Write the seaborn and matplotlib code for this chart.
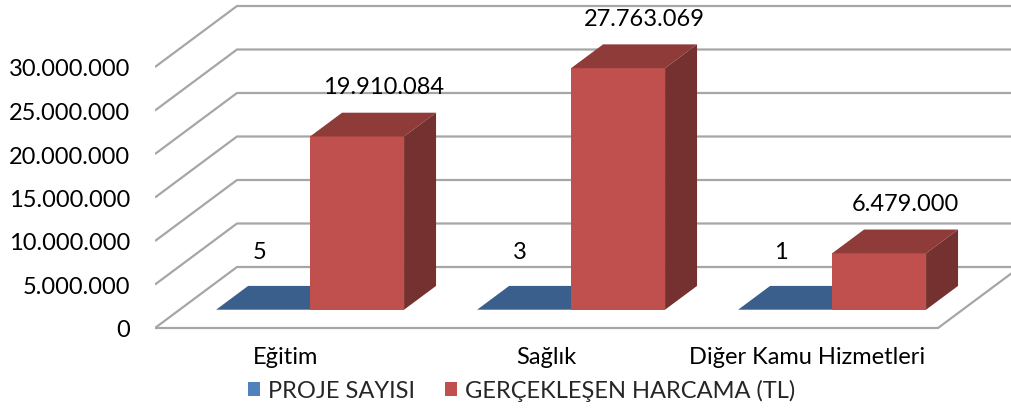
import matplotlib
matplotlib.use("Agg")
import pandas as pd
import matplotlib.pyplot as plt
import seaborn as sns
from matplotlib.patches import Polygon
from matplotlib.transforms import Affine2D
from matplotlib.colors import to_rgb

# Data
categories = ["Eğitim", "Sağlık", "Diğer Kamu Hizmetleri"]
series_names = ["PROJE SAYISI", "GERÇEKLEŞEN HARCAMA (TL)"]
proje_sayisi = [5, 3, 1]
harcama = [19910084, 27763069, 6479000]
y_ticks = [0, 5000000, 10000000, 15000000, 20000000, 25000000, 30000000]

df = pd.DataFrame({
    "Kategori": categories * 2,
    "Seri": [series_names[0]] * 3 + [series_names[1]] * 3,
    "Deger": proje_sayisi + harcama,
})

sns.set_theme(style="white")
plt.rcParams["font.family"] = ["Lato", "DejaVu Sans"]
fs = 17

W, H = 1011, 414
fig = plt.figure(figsize=(W / 100, H / 100), dpi=100)
left_px = 155
ax = fig.add_axes([left_px / W, 0, 1 - left_px / W, 1])

# pixel scale of the fake 3D box
px_per_cat = 261
px_per_val = 8.7 / 1e6
zero_px = 329
depth_x = 82 / px_per_cat      # full floor depth, in category units
depth_y = 61 / px_per_val      # full floor depth, in value units
bar_front = 0.3
bar_depth = 0.39
grid_color = "#a6a6a6"

sns.barplot(data=df, x="Kategori", y="Deger", hue="Seri",
            palette=["#4F81BD", "#C0504D"], saturation=1, width=0.72,
            linewidth=0, errorbar=None, ax=ax)

handles, labels = ax.get_legend_handles_labels()
ax.get_legend().remove()

xmin = -0.5
xmax = xmin + (W - left_px) / px_per_cat
ax.set_xlim(xmin, xmax)
ax.set_ylim(-(H - zero_px) / px_per_val, zero_px / px_per_val)

# walls: gridlines run from the front-left edge back and across the back wall
for v in y_ticks:
    ax.plot([xmin, xmin + depth_x, xmax], [v, v + depth_y, v + depth_y],
            color=grid_color, lw=1.6, zorder=1, solid_capstyle="butt")
# floor front and right edges
n = len(categories)
ax.plot([xmin, n - 0.5, n - 0.5 + depth_x], [0, 0, depth_y],
        color=grid_color, lw=1.6, zorder=1)

fx, fy = bar_front * depth_x, bar_front * depth_y
bx, by = bar_depth * depth_x, bar_depth * depth_y
for s, cont in enumerate(ax.containers):
    z = 3 + s
    for p in cont:
        x0, w, h = p.get_x(), p.get_width(), p.get_height()
        base = to_rgb(p.get_facecolor())
        top_c = tuple(c * 0.74 for c in base)
        side_c = tuple(c * 0.61 for c in base)
        p.set_transform(Affine2D().translate(fx, fy) + ax.transData)
        p.set_zorder(z)
        xl, xr, yb, yt = x0 + fx, x0 + w + fx, fy, h + fy
        top = Polygon([(xl, yt), (xr, yt), (xr + bx, yt + by), (xl + bx, yt + by)],
                      closed=True, facecolor=top_c, edgecolor="none", zorder=z)
        side = Polygon([(xr, yb), (xr + bx, yb + by), (xr + bx, yt + by), (xr, yt)],
                       closed=True, facecolor=side_c, edgecolor="none", zorder=z)
        ax.add_patch(top)
        ax.add_patch(side)
        if s == 0:
            txt, off = f"{int(h)}", (-20, 46)
        else:
            txt, off = f"{int(h):,}".replace(",", "."), (10, 38)
        ax.annotate(txt, ((xl + xr) / 2 + bx / 2, yt + by / 2),
                    xytext=off, textcoords="offset pixels",
                    ha="center", va="center", fontsize=fs, color="black", zorder=10)

ax.set_yticks(y_ticks, labels=[f"{v:,}".replace(",", ".") for v in y_ticks])
ax.tick_params(axis="y", length=0, pad=18, labelsize=fs, colors="black")
ax.set_xticks([])
ax.set_xlabel("")
ax.set_ylabel("")
for sp in ax.spines.values():
    sp.set_visible(False)

cat_y = -(358 - zero_px) / px_per_val
for i, c in enumerate(categories):
    ax.text(i, cat_y, c, ha="center", va="center", fontsize=fs, color="black")

fig.legend(handles, labels, loc="center", bbox_to_anchor=(0.516, 0.055),
           ncol=2, frameon=False, fontsize=17, handlelength=0.5,
           handleheight=0.5, handletextpad=0.35, columnspacing=1.25)

fig.savefig("out.png", dpi=100)
